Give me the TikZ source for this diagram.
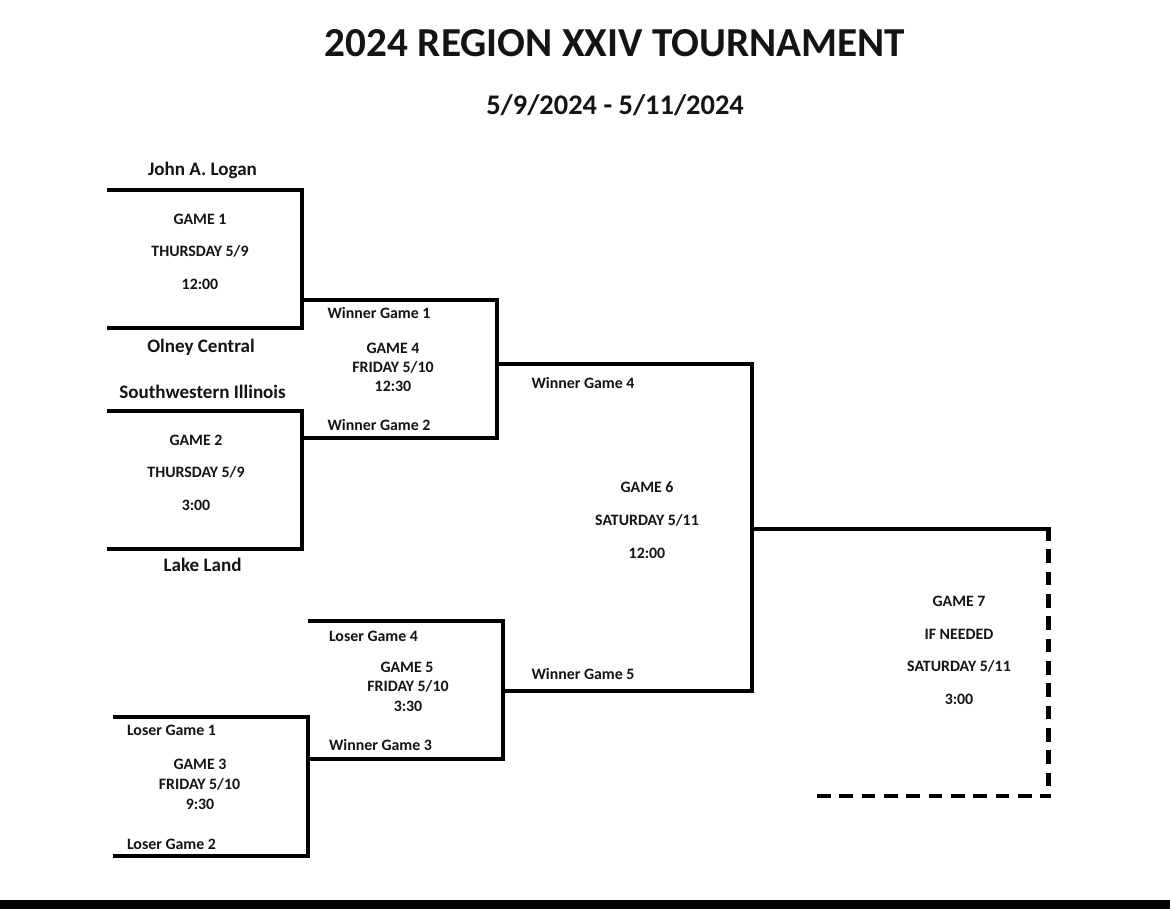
\documentclass[tikz,border=0pt]{standalone}
\usepackage{fontspec}
\setmainfont{Carlito}
\tikzset{
  x=0.75pt,y=-0.75pt,
  bline/.style={line width=3pt,line cap=butt,line join=miter},
  dline/.style={line width=3.3pt,dash pattern=on 10.3pt off 6.45pt},
  lab/.style={inner sep=0pt,font=\fontsize{11.9pt}{13pt}\selectfont\bfseries,text=black!92},
  team/.style={inner sep=0pt,font=\fontsize{14.3pt}{16pt}\selectfont\bfseries,text=black!92},
}
\begin{document}
\begin{tikzpicture}
\useasboundingbox (0,0) rectangle (1170,909);
\fill[white] (0,0) rectangle (1170,909);
\fill[black] (0,900) rectangle (1170,909);
\node[inner sep=0pt,font=\fontsize{30.9pt}{34pt}\selectfont\bfseries,text=black!92] (title) at (615,43) {2024 REGION XXIV TOURNAMENT};
\node[inner sep=0pt,font=\fontsize{21.3pt}{25pt}\selectfont\bfseries,text=black!92] (dates) at (615,105) {5/9/2024 - 5/11/2024};
% teams
\node[team] (t1) at (202.5,170) {John A. Logan};
\node[team] (t2) at (201,347) {Olney Central};
\node[team] (t3) at (202.5,392) {Southwestern Illinois};
\node[team] (t4) at (202.5,565) {Lake Land};
% game 1
\node[lab] (g1a) at (200,219) {GAME 1};
\node[lab] (g1b) at (200,251) {THURSDAY 5/9};
\node[lab] (g1c) at (200,284) {12:00};
% game 2
\node[lab] (g2a) at (196,440) {GAME 2};
\node[lab] (g2b) at (196,472) {THURSDAY 5/9};
\node[lab] (g2c) at (196,505) {3:00};
% game 4
\node[lab] (w1) at (379,313) {Winner Game 1};
\node[lab] (g4a) at (393,348) {GAME 4};
\node[lab] (g4b) at (393,367) {FRIDAY 5/10};
\node[lab] (g4c) at (393,386) {12:30};
\node[lab] (w2) at (379,425) {Winner Game 2};
% game 6
\node[lab] (w4) at (583,383) {Winner Game 4};
\node[lab] (g6a) at (647,487) {GAME 6};
\node[lab] (g6b) at (647,520) {SATURDAY 5/11};
\node[lab] (g6c) at (647,553) {12:00};
\node[lab] (w5) at (583,674) {Winner Game 5};
% game 5
\node[lab] (l4) at (373.5,636) {Loser Game 4};
\node[lab] (g5a) at (407,667) {GAME 5};
\node[lab] (g5b) at (408,686) {FRIDAY 5/10};
\node[lab] (g5c) at (408,706) {3:30};
\node[lab] (w3) at (380.5,745) {Winner Game 3};
% game 3
\node[lab] (l1) at (171.5,730) {Loser Game 1};
\node[lab] (g3a) at (200,764) {GAME 3};
\node[lab] (g3b) at (199.5,784) {FRIDAY 5/10};
\node[lab] (g3c) at (200,804) {9:30};
\node[lab] (l2) at (171.5,844) {Loser Game 2};
% game 7
\node[lab] (g7a) at (959,601) {GAME 7};
\node[lab] (g7b) at (959,634) {IF NEEDED};
\node[lab] (g7c) at (959,666) {SATURDAY 5/11};
\node[lab] (g7d) at (959,699) {3:00};
% bracket end points
\coordinate (a1) at (107,190);
\coordinate (a2) at (302,190);
\coordinate (a3) at (302,328);
\coordinate (a4) at (107,328);
\coordinate (b1) at (107,411);
\coordinate (b2) at (302,411);
\coordinate (b3) at (302,549);
\coordinate (b4) at (107,549);
\coordinate (c1) at (302,300);
\coordinate (c2) at (497,300);
\coordinate (c3) at (497,438);
\coordinate (c4) at (302,438);
\coordinate (d1) at (497,364);
\coordinate (d2) at (752,364);
\coordinate (d3) at (752,691);
\coordinate (d4) at (503,691);
\coordinate (e1) at (308,621);
\coordinate (e2) at (503,621);
\coordinate (e3) at (503,759);
\coordinate (e4) at (308,759);
\coordinate (f1) at (113,717);
\coordinate (f2) at (308,717);
\coordinate (f3) at (308,856);
\coordinate (f4) at (113,856);
\coordinate (h1) at (752,529);
\coordinate (h2) at (1050.5,529);
\coordinate (h3) at (1048.5,527);
\coordinate (h4) at (1048.5,790);
\coordinate (h5) at (817,796);
\coordinate (h6) at (1050.5,796);
\draw[bline] (a1) -- (a2) -- (a3) -- (a4);
\draw[bline] (b1) -- (b2) -- (b3) -- (b4);
\draw[bline] (c1) -- (c2) -- (c3) -- (c4);
\draw[bline] (d1) -- (d2) -- (d3) -- (d4);
\draw[bline] (e1) -- (e2) -- (e3) -- (e4);
\draw[bline] (f1) -- (f2) -- (f3) -- (f4);
\draw[bline] (h1) -- (h2);
\draw[dline] (h3) -- (h4);
\draw[dline] (h5) -- (h6);
\end{tikzpicture}
\end{document}
